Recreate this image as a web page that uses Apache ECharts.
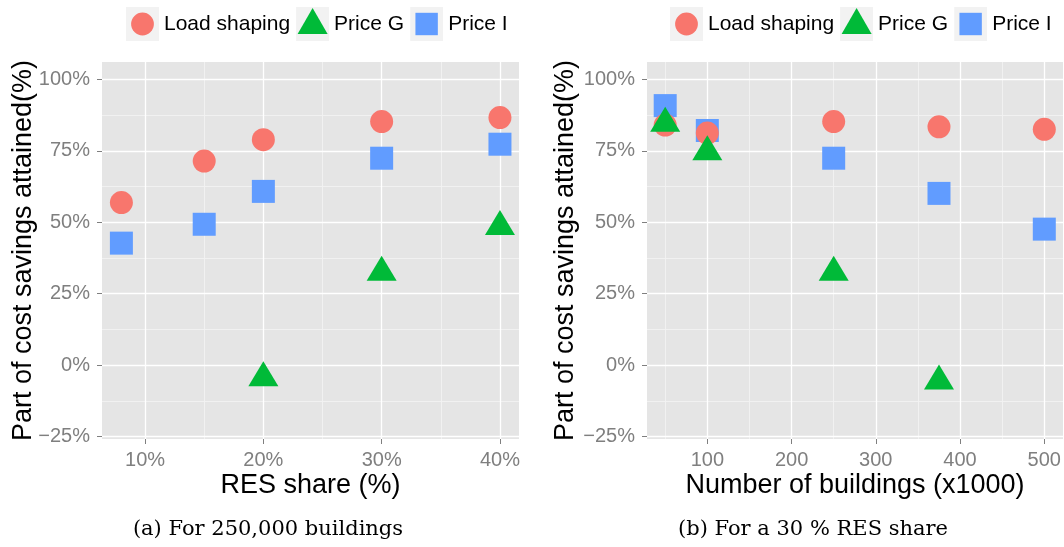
<!DOCTYPE html>
<html>
<head>
<meta charset="utf-8">
<script src="https://cdn.jsdelivr.net/npm/echarts@6/dist/echarts.min.js"></script>
<style>
  html, body { margin: 0; padding: 0; background: #fff; }
  #main { width: 1064px; height: 547px; }
</style>
</head>
<body>
<div id="main"></div>
<script>
// panel (a): 250,000 buildings, varying RES share
var resShare = [8, 15, 20, 30, 40];
var loadShapingA = [56.9, 71.4, 78.9, 85.2, 86.6];
var priceGA = [null, null, -4.4, 32.5, 48.5];
var priceIA = [42.7, 49.3, 60.8, 72.4, 77.3];

// panel (b): 30 % RES share, varying number of buildings (x1000)
var buildings = [50, 100, 250, 375, 500];
var loadShapingB = [84.0, 81.2, 85.2, 83.4, 82.5];
var priceGB = [84.6, 74.7, 32.5, -5.5, null];
var priceIB = [90.8, 82.1, 72.4, 60.1, 47.6];

// tick labels
var yTicks = [-25, 0, 25, 50, 75, 100];
var yMinor = [-12.5, 12.5, 37.5, 62.5, 87.5];
var xTicksA = [10, 20, 30, 40];
var xMinorA = [15, 25, 35];
var xTicksB = [100, 200, 300, 400, 500];
var xMinorB = [50, 150, 250, 350, 450];

var names = ['Load shaping', 'Price G', 'Price I'];
var colors = { 'Load shaping': '#F8766D', 'Price G': '#00BA38', 'Price I': '#619CFF' };

function keyIcon(name) {
    var c = colors[name];
    var shape;
    if (name === 'Load shaping') shape = "<circle cx='16.5' cy='17' r='11.4' fill='" + c + "'/>";
    else if (name === 'Price G') shape = "<polygon points='16.5,1 31.5,27 1.5,27' fill='" + c + "'/>";
    else shape = "<rect x='5.3' y='5.8' width='22.4' height='22.4' fill='" + c + "'/>";
    var svg = "<svg xmlns='http://www.w3.org/2000/svg' width='33' height='34'>" +
        "<rect width='33' height='34' fill='#F2F2F2'/>" + shape + "</svg>";
    return 'image://data:image/svg+xml;charset=utf-8,' + encodeURIComponent(svg);
}

function pts(xs, ys) {
    var out = [];
    for (var i = 0; i < xs.length; i++) {
        if (ys[i] !== null) out.push([xs[i], ys[i]]);
    }
    return out;
}

function series(name, xs, ys, axisIdx) {
    var s = {
        name: name,
        type: 'scatter',
        xAxisIndex: axisIdx,
        yAxisIndex: axisIdx,
        z: 3,
        data: pts(xs, ys),
        itemStyle: { color: colors[name], opacity: 1 },
        emphasis: { disabled: true }
    };
    if (name === 'Load shaping') { s.symbol = 'circle'; s.symbolSize = 23; }
    else if (name === 'Price G') { s.symbol = 'triangle'; s.symbolSize = [30, 25]; s.symbolOffset = [0, -4]; }
    else { s.symbol = 'rect'; s.symbolSize = 23; }
    return s;
}

var grey = '#7F7F7F';
var pct = function (v) { return (v < 0 ? '\u2212' + (-v) : v) + '%'; };

function majorY(grid, nm, gap) {
    return {
        type: 'value', gridIndex: grid, min: -25.8, max: 106.05,
        minInterval: 25, maxInterval: 25, z: 2,
        axisLine: { show: false, onZero: false },
        axisTick: { show: true, length: 5, customValues: yTicks, lineStyle: { color: grey, width: 1 } },
        axisLabel: { color: grey, fontSize: 20, margin: 12, customValues: yTicks, formatter: pct },
        splitLine: { show: true, lineStyle: { color: '#FFFFFF', width: 1.3 } },
        name: nm, nameLocation: 'middle', nameGap: gap, nameMoveOverlap: false,
        nameTextStyle: { color: '#000', fontSize: 27 }
    };
}
function minorAxis(grid, mn, mx, step, vals, pos) {
    return {
        type: 'value', gridIndex: grid, min: mn, max: mx, position: pos,
        minInterval: step, maxInterval: step, z: 1,
        axisLine: { show: false, onZero: false },
        axisTick: { show: false, customValues: vals },
        axisLabel: { show: false, customValues: vals },
        splitLine: { show: true, lineStyle: { color: '#F2F2F2', width: 0.9 } }
    };
}
function majorX(grid, mn, mx, step, vals, fmt, nm) {
    return {
        type: 'value', gridIndex: grid, min: mn, max: mx, position: 'bottom',
        minInterval: step, maxInterval: step, z: 2,
        axisLine: { show: false, onZero: false },
        axisTick: { show: true, length: 5, customValues: vals, lineStyle: { color: grey, width: 1 } },
        axisLabel: { color: grey, fontSize: 20, margin: 11, customValues: vals, formatter: fmt },
        splitLine: { show: true, lineStyle: { color: '#FFFFFF', width: 1.3 } },
        name: nm, nameLocation: 'middle', nameGap: 33, nameMoveOverlap: false,
        nameTextStyle: { color: '#000', fontSize: 27 }
    };
}

function legend(left) {
    return {
        left: left, top: 2, orient: 'horizontal',
        itemWidth: 33, itemHeight: 34, itemGap: 6,
        textStyle: { color: '#000', fontSize: 21 },
        selectedMode: false,
        data: names.map(function (n) { return { name: n, icon: keyIcon(n) }; })
    };
}

var chart = echarts.init(document.getElementById('main'));
var yName = 'Part of cost savings attained(%)';
var option = {
    animation: false,
    textStyle: { fontFamily: 'Liberation Sans, Arial, sans-serif' },
    legend: [legend(121), legend(665)],
    grid: [
        { left: 102, top: 62, width: 417, height: 377, show: true, backgroundColor: '#E5E5E5', borderWidth: 0, z: 0 },
        { left: 647, top: 62, width: 416, height: 377, show: true, backgroundColor: '#E5E5E5', borderWidth: 0, z: 0 }
    ],
    xAxis: [
        majorX(0, 6.36, 41.61, 10, xTicksA, pct, 'RES share (%)'),
        minorAxis(0, 6.36, 41.61, 5, xMinorA, 'top'),
        majorX(1, 28.4, 522.2, 100, xTicksB, function (v) { return String(v); }, 'Number of buildings (x1000)'),
        minorAxis(1, 28.4, 522.2, 50, xMinorB, 'top')
    ],
    yAxis: [
        majorY(0, yName, 65),
        minorAxis(0, -25.8, 106.05, 12.5, yMinor, 'right'),
        majorY(1, yName, 68),
        minorAxis(1, -25.8, 106.05, 12.5, yMinor, 'right')
    ],
    graphic: [
        { type: 'text', x: 268, y: 530, style: { text: '(a) For 250,000 buildings', fontFamily: 'DejaVu Serif', fontSize: 21, fill: '#000', textAlign: 'center', textVerticalAlign: 'middle' } },
        { type: 'text', x: 813, y: 530, style: { text: '(b) For a 30 % RES share', fontFamily: 'DejaVu Serif', fontSize: 21, fill: '#000', textAlign: 'center', textVerticalAlign: 'middle' } }
    ],
    series: [
        series('Price I', resShare, priceIA, 0),
        series('Load shaping', resShare, loadShapingA, 0),
        series('Price G', resShare, priceGA, 0),
        series('Price I', buildings, priceIB, 2),
        series('Load shaping', buildings, loadShapingB, 2),
        series('Price G', buildings, priceGB, 2)
    ]
};
chart.setOption(option);
</script>
</body>
</html>
